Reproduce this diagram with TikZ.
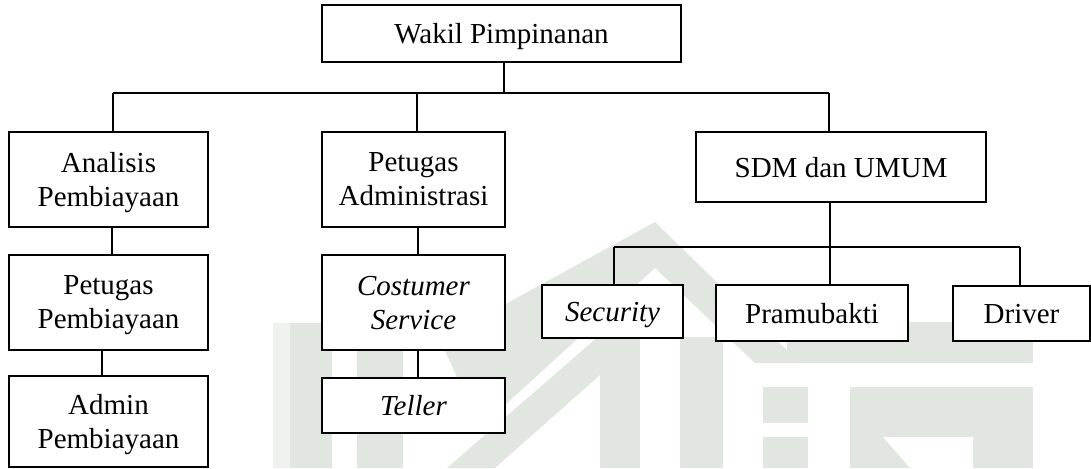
\documentclass[tikz,border=0pt]{standalone}
\usepackage{fontspec}
\setmainfont{Liberation Serif}
\definecolor{wm}{RGB}{226,230,225}
\definecolor{wmlight}{RGB}{240,242,239}
\tikzset{
  box/.style={draw=black, line width=2.2pt, fill=white, inner sep=0pt, align=center,
    text depth=0pt, font=\fontsize{29}{34}\selectfont},
  link/.style={draw=black, line width=1.6pt},
  wmark/.style={fill=wm, draw=none}
}
\begin{document}
\begin{tikzpicture}[x=1pt, y=-1pt]
\useasboundingbox (0,0) rectangle (1091,468);
% watermark
\fill[wmlight] (273,323) rectangle (290,468);
\fill[wmark] (440,340) -- (655,222) -- (800,363) -- (755,363) -- (655,268) -- (505,405) -- (470,405) -- cycle;
\fill[wmark] (787,322) rectangle (1033,363);
\fill[wmark] (290,323) rectangle (332,468);
\fill[wmark] (357,330) rectangle (403,468);
\fill[wmark] (447,468) -- (495,468) -- (600,375) -- (600,335) -- cycle;
\fill[wmark] (600,337) rectangle (640,468);
\fill[wmark] (680,337) rectangle (723,468);
\fill[wmark] (763,387) rectangle (808,423);
\fill[wmark] (763,437) rectangle (808,468);
\fill[wmark] (850,387) rectangle (1033,468);
\fill[white] (883,437) -- (973,437) -- (973,468) -- (910,468) -- cycle;
% boxes
\node[box, minimum width=359pt, minimum height=57pt] (wakil) at (501.5,33.5) {Wakil Pimpinanan};
\node[box, minimum width=199pt, minimum height=95pt] (analis) at (108.5,179.5) {Analisis\\Pembiayaan};
\node[box, minimum width=183pt, minimum height=95pt] (padm) at (413.5,179.5) {Petugas\\Administrasi};
\node[box, minimum width=290pt, minimum height=70pt] (sdm) at (841,167) {SDM dan UMUM};
\node[box, minimum width=199pt, minimum height=95pt] (ppemb) at (108.5,302.5) {Petugas\\Pembiayaan};
\node[box, minimum width=183pt, minimum height=95pt] (cs) at (413.5,302.5) {\itshape Costumer\\\itshape Service};
\node[box, minimum width=199pt, minimum height=91pt] (admin) at (108.5,421.5) {Admin\\Pembiayaan};
\node[box, minimum width=183pt, minimum height=55pt] (teller) at (413.5,405.5) {\itshape Teller};
\node[box, minimum width=141pt, minimum height=53pt] (secu) at (612.5,311.5) {\itshape Security};
\node[box, minimum width=192pt, minimum height=56pt] (pramu) at (812,313) {Pramubakti};
\node[box, minimum width=137pt, minimum height=55pt] (driver) at (1021.5,313.5) {Driver};
% junction coordinates
\coordinate (j1) at (504,93);
\coordinate (j2) at (830,247);
% connectors
\draw[link] (wakil.south -| j1) -- (j1);
\draw[link] (113,93) coordinate (jl) -- (829,93) coordinate (jr);
\draw[link] (jl) -- (jl |- analis.north);
\draw[link] (417,93) coordinate (jm) -- (jm |- padm.north);
\draw[link] (jr) -- (jr |- sdm.north);
\draw[link] (112,0 |- analis.south) coordinate (a1) -- (a1 |- ppemb.north);
\draw[link] (102,0 |- ppemb.south) coordinate (a2) -- (a2 |- admin.north);
\draw[link] (418,0 |- padm.south) coordinate (b1) -- (b1 |- cs.north);
\draw[link] (418,0 |- cs.south) coordinate (b2) -- (b2 |- teller.north);
\draw[link] (sdm.south -| j2) -- (j2);
\draw[link] (614,247) coordinate (c1) -- (1020,247) coordinate (c3);
\draw[link] (c1) -- (c1 |- secu.north);
\draw[link] (j2) -- (j2 |- pramu.north);
\draw[link] (c3) -- (c3 |- driver.north);
\end{tikzpicture}
\end{document}
